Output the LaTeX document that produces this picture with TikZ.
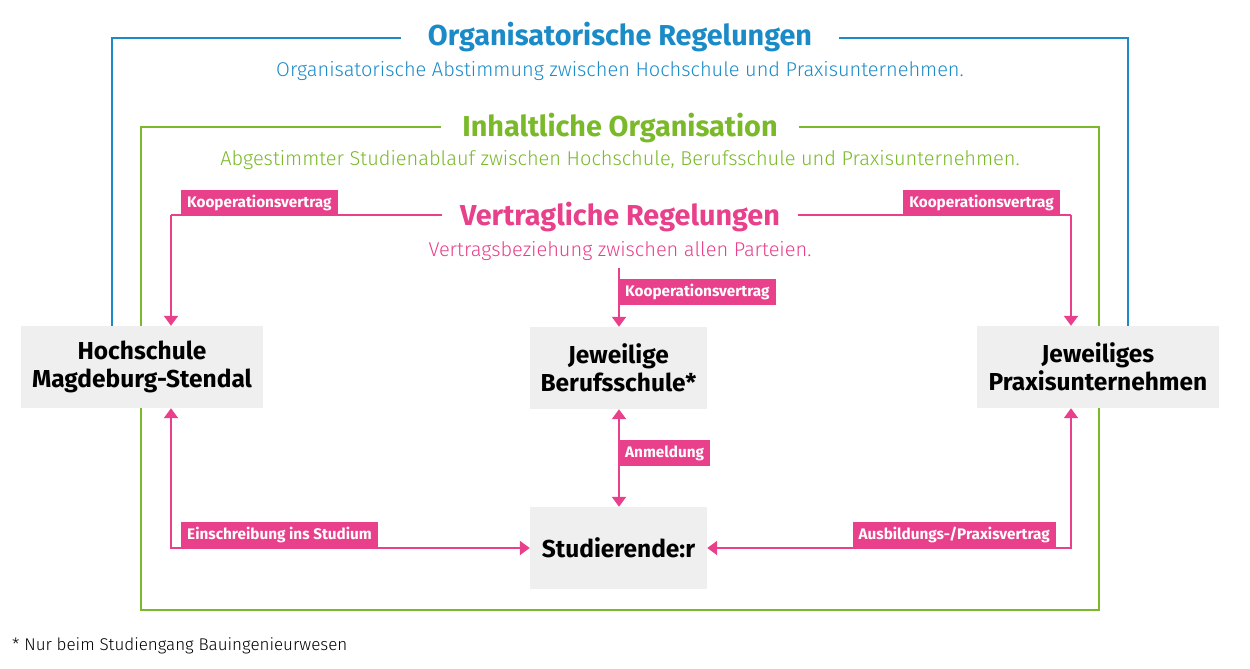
\documentclass[tikz,border=0pt]{standalone}
\usepackage{fontspec}
\setmainfont{Fira Sans}
\newfontfamily\lightf{Fira Sans Light}
\usetikzlibrary{arrows.meta,calc}
\definecolor{cblue}{HTML}{1B8BC8}
\definecolor{cgreen}{HTML}{7AB929}
\definecolor{cpink}{HTML}{E8408B}
\definecolor{cbox}{HTML}{EFEFEF}
\tikzset{
  frameB/.style={draw=cblue, line width=2pt},
  frameG/.style={draw=cgreen, line width=2pt},
  plink/.style={draw=cpink, line width=2pt},
  ptip/.style={-{Triangle[width=14pt,length=10pt]}},
  ptips/.style={{Triangle[width=14pt,length=10pt]}-{Triangle[width=14pt,length=10pt]}},
  titleB/.style={fill=white, inner xsep=27pt, inner ysep=4pt, text=cblue, font=\fontsize{28.8}{32}\selectfont\bfseries, anchor=base},
  titleG/.style={titleB, inner xsep=21pt, text=cgreen},
  titleP/.style={titleB, inner xsep=18pt, text=cpink},
  subt/.style={font=\lightf\fontsize{20}{24}\selectfont, anchor=base},
  box/.style={fill=cbox, align=center, font=\fontsize{24.5}{28}\selectfont\bfseries, text=black, inner sep=0pt},
  lab/.style={fill=cpink, text=white, font=\fontsize{15.3}{18}\selectfont\bfseries, minimum height=26pt, inner xsep=6pt, inner ysep=0pt},
}
\begin{document}
\begin{tikzpicture}[x=1pt,y=-1pt]
\useasboundingbox (0,0) rectangle (1250,669);
% frames
\draw[frameB] (112,330) -- (112,38) -- (1128,38) -- (1128,330);
\draw[frameG] (141,127) rectangle (1099,610);
\coordinate (pL) at (171,215);
\coordinate (pR) at (1071,215);
\coordinate (pC) at (619,268);
\draw[plink] (pL) -- (pR);
% titles
\node[titleB] (tB) at (620,46) {Organisatorische Regelungen};
\node[subt, text=cblue] (sB) at (620,77) {Organisatorische Abstimmung zwischen Hochschule und Praxisunternehmen.};
\node[titleG] (tG) at (620,136) {Inhaltliche Organisation};
\node[subt, text=cgreen] (sG) at (620,165) {Abgestimmter Studienablauf zwischen Hochschule, Berufsschule und Praxisunternehmen.};
\node[titleP] (tP) at (620,225) {Vertragliche Regelungen};
\node[subt, text=cpink] (sP) at (620,256) {Vertragsbeziehung zwischen allen Parteien.};
% boxes
\node[box, minimum width=242pt, minimum height=82pt] (hs) at (142,367) {Hochschule\\Magdeburg-Stendal};
\node[box, minimum width=177pt, minimum height=82pt] (bs) at (618.5,368) {Jeweilige\\Berufsschule*};
\node[box, minimum width=242pt, minimum height=82pt] (pu) at (1098,367) {Jeweiliges\\Praxisunternehmen};
\node[box, minimum width=177pt, minimum height=82pt] (st) at (618.5,548) {Studierende:r};
% connectors
\draw[plink, ptip] (pL) -- (pL |- hs.north);
\draw[plink, ptip] (pR) -- (pR |- pu.north);
\draw[plink, ptip] (pC) -- (pC |- bs.north);
\draw[plink, ptips] (bs.south -| pC) -- (st.north -| pC);
\draw[plink, ptips] (hs.south -| pL) |- (st.west);
\draw[plink, ptips] (pu.south -| pR) |- (st.east);
% labels
\node[lab, anchor=south west] (l1) at (181,216) {Kooperationsvertrag};
\node[lab, anchor=south east] (l2) at (1060,216) {Kooperationsvertrag};
\node[lab, anchor=north west] (l3) at (619,279) {Kooperationsvertrag};
\node[lab, anchor=north west] (l4) at (619,440) {Anmeldung};
\node[lab, anchor=south west] (l5) at (181,548) {Einschreibung ins Studium};
\node[lab, anchor=south east] (l6) at (1056,548) {Ausbildungs-/Praxisvertrag};
% footnote
\node[font=\lightf\fontsize{17}{20}\selectfont, anchor=base west, inner sep=0pt] (fn) at (12,650) {* Nur beim Studiengang Bauingenieurwesen};
\end{tikzpicture}
\end{document}
